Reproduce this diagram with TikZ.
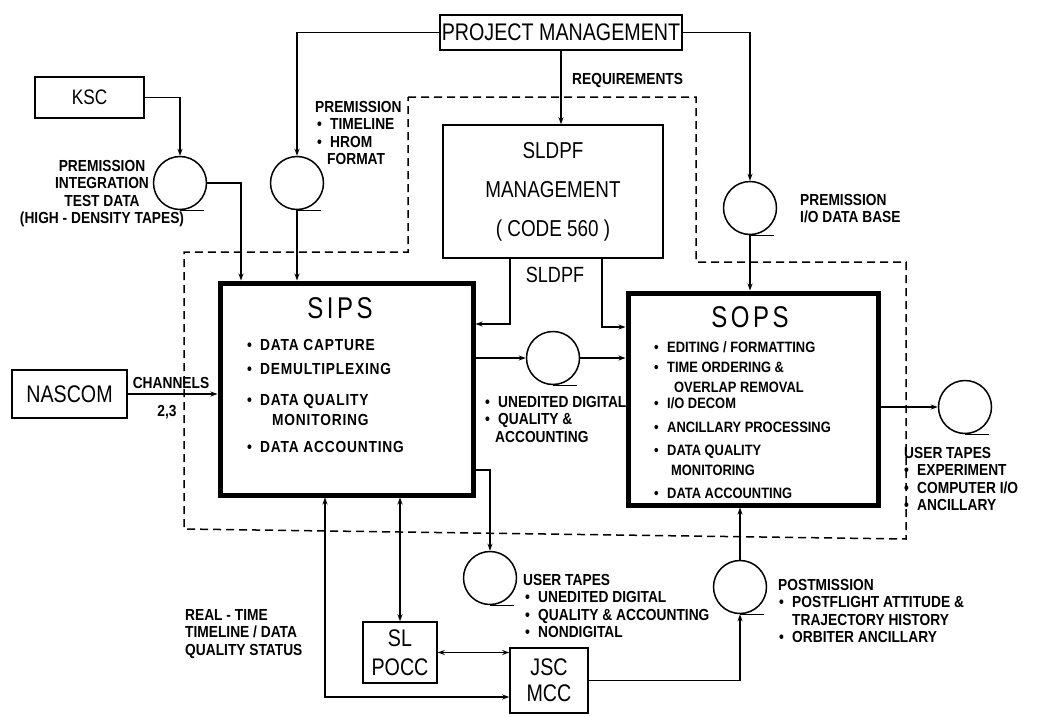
\documentclass[tikz,border=0pt]{standalone}
\usepackage{fontspec}
\setmainfont{Liberation Sans}
\newfontfamily\bxfont[FakeStretch=0.82]{Liberation Sans}
\newfontfamily\ttlfont[FakeStretch=0.8,LetterSpace=12]{Liberation Sans}
\newfontfamily\lbfont[FakeStretch=0.86]{Liberation Sans Bold}
\newfontfamily\lbwfont[FakeStretch=0.86,LetterSpace=5]{Liberation Sans Bold}
\usetikzlibrary{arrows.meta}
\newcommand\bu{\makebox[13pt][l]{•}}
\tikzset{
  bx/.style={draw, line width=1.5pt, inner sep=0pt, align=center,
    font=\bxfont\fontsize{24}{28}\selectfont},
  thk/.style={draw, line width=5pt, inner sep=0pt},
  tape/.style={draw, circle, line width=1.5pt, minimum size=53pt, inner sep=0pt},
  conn/.style={line width=1.3pt},
  arr/.style={conn, -{Stealth[length=7pt,width=5pt]}},
  darr/.style={conn, {Stealth[length=7pt,width=5pt]}-{Stealth[length=7pt,width=5pt]}},
  lbl/.style={font=\lbfont\fontsize{16}{17.5}\selectfont, align=left, inner sep=0pt, anchor=north west},
  lblc/.style={font=\lbfont\fontsize{16}{17.5}\selectfont, align=center, inner sep=0pt},
  sipsitems/.style={font=\lbwfont\fontsize{16}{20}\selectfont, align=left, inner sep=0pt, anchor=north west},
  sopsitems/.style={font=\lbfont\fontsize{15}{20}\selectfont, align=left, inner sep=0pt, anchor=north west},
  ttl/.style={font=\ttlfont\fontsize{30}{34}\selectfont, inner sep=0pt},
  bnd/.style={line width=1.5pt, dash pattern=on 8pt off 5pt},
}
\begin{document}
\begin{tikzpicture}[x=1pt,y=-1pt]
\fill[white] (0,0) rectangle (1057,717);
\useasboundingbox (0,0) rectangle (1057,717);

% dashed boundary
\draw[bnd] (408,97) -- (696,97) -- (696,262) -- (906,262) -- (906,539) -- (184,529) -- (184,252) -- (408,252) -- cycle;

% boxes
\node[bx, minimum width=242pt, minimum height=35pt] (pm) at (561,32.5) {PROJECT MANAGEMENT};
\node[bx, minimum width=109pt, minimum height=41pt, font=\bxfont\fontsize{21}{24}\selectfont] (ksc) at (89.5,97.5) {KSC};
\node[bx, minimum width=220pt, minimum height=133pt, font=\bxfont\fontsize{23}{27}\selectfont] (sldpf) at (553,191.5) {SLDPF\\[12pt]MANAGEMENT\\[12pt]( CODE 560 )};
\node[thk, minimum width=253pt, minimum height=212pt] (sips) at (346.5,389) {};
\node[thk, minimum width=250pt, minimum height=212pt] (sops) at (753,399) {};
\node[bx, minimum width=115pt, minimum height=48pt, font=\bxfont\fontsize{24}{28}\selectfont] (nascom) at (69.5,394) {NASCOM};
\node[bx, minimum width=74pt, minimum height=61pt, font=\bxfont\fontsize{24}{29}\selectfont] (slpocc) at (400,652.5) {SL\\POCC};
\node[bx, minimum width=78pt, minimum height=65pt, font=\bxfont\fontsize{24}{26}\selectfont] (jsc) at (549,680.5) {JSC\\MCC};

% titles and items
\node[ttl] (sipst) at (340,308) {SIPS};
\node[ttl] (sopst) at (750,317) {SOPS};
\node[sipsitems] (sipsi) at (247,339) {\bu DATA CAPTURE\\[4pt]\bu DEMULTIPLEXING\\[11pt]\bu DATA QUALITY\\\hspace*{25pt}MONITORING\\[7pt]\bu DATA ACCOUNTING};
\node[sopsitems] (sopsi) at (654,341) {\bu EDITING / FORMATTING\\\bu TIME ORDERING \&\\\hspace*{20pt}OVERLAP REMOVAL\\[-4pt]\bu I/O DECOM\\[4pt]\bu ANCILLARY PROCESSING\\[3pt]\bu DATA QUALITY\\\hspace*{17pt}MONITORING\\[3pt]\bu DATA ACCOUNTING};

% tapes
\node[tape] (t1) at (180,183) {};
\node[tape] (t2) at (297,183) {};
\node[tape] (t3) at (553,358) {};
\node[tape] (t4) at (750,208) {};
\node[tape] (t5) at (965,407) {};
\node[tape] (t6) at (740,587) {};
\node[tape] (t7) at (490,578) {};
\foreach \t in {t1,t2,t3,t4,t5,t6,t7} {\draw[conn] (\t.south) -- ++(24,0);}

% helper coordinates
\coordinate (h1) at (510,324);
\coordinate (h2) at (602,327);
\coordinate (h3) at (241,0);
\coordinate (h4) at (0,470);
\coordinate (h5) at (325,697);

% connectors
\draw[arr] (ksc.east) -| (t1.north);
\draw[arr] (t1.east) -| (sips.north -| h3);
\draw[arr] (pm.west) -| (t2.north);
\draw[arr] (t2.south) -- (t2.south |- sips.north);
\draw[arr] (pm.south) -- (pm.south |- sldpf.north);
\draw[arr] (pm.east) -| (t4.north);
\draw[arr] (t4.south) -- (t4.south |- sops.north);
\draw[arr] (sldpf.south -| h1) |- (sips.east |- h1);
\draw[arr] (sldpf.south -| h2) |- (sops.west |- h2);
\draw[arr] (sips.east |- t3.west) -- (t3.west);
\draw[arr] (t3.east) -- (sops.west |- t3.east);
\draw[arr] (nascom.east) -- (sips.west |- nascom.east);
\draw[arr] (sops.east |- t5.west) -- (t5.west);
\draw[arr] (t6.north) -- (t6.north |- sops.south);
\draw[arr] (jsc.east) -| (t6.south);
\draw[arr] (sips.east |- h4) -| (t7.north);
\draw[darr] (sips.south -| slpocc.north) -- (slpocc.north);
\draw[darr] (slpocc.east) -- (jsc.west |- slpocc.east);
\draw[darr] (sips.south -| h5) |- (jsc.west |- h5);

% labels
\node[lblc, anchor=north] (l1) at (102,160) {PREMISSION\\INTEGRATION\\TEST DATA\\(HIGH - DENSITY TAPES)};
\node[lbl] (l2) at (315,101) {PREMISSION\\\hspace*{2pt}\bu TIMELINE\\\hspace*{2pt}\bu HROM\\\hspace*{12pt}FORMAT};
\node[lbl] (l3) at (572,73) {REQUIREMENTS};
\node[bx, draw=none, font=\bxfont\fontsize{22}{26}\selectfont] (l4) at (555,275) {SLDPF};
\node[lblc] (l5) at (171,383) {CHANNELS};
\node[lblc] (l6) at (167,412) {2,3};
\node[lbl] (l7) at (485,396) {\bu UNEDITED DIGITAL\\\bu QUALITY \&\\\hspace*{10pt}ACCOUNTING};
\node[lbl] (l8) at (800,194) {PREMISSION\\I/O DATA BASE};
\node[lbl] (l9) at (904,447) {USER TAPES\\\bu EXPERIMENT\\\bu COMPUTER I/O\\\bu ANCILLARY};
\node[lbl] (l10) at (523,574) {USER TAPES\\\hspace*{2pt}\bu UNEDITED DIGITAL\\\hspace*{2pt}\bu QUALITY \& ACCOUNTING\\\hspace*{2pt}\bu NONDIGITAL};
\node[lbl] (l11) at (778,579) {POSTMISSION\\\hspace*{1pt}\bu POSTFLIGHT ATTITUDE \&\\\hspace*{14pt}TRAJECTORY HISTORY\\\hspace*{1pt}\bu ORBITER ANCILLARY};
\node[lbl] (l12) at (185,609) {REAL - TIME\\TIMELINE / DATA\\QUALITY STATUS};
\end{tikzpicture}
\end{document}
